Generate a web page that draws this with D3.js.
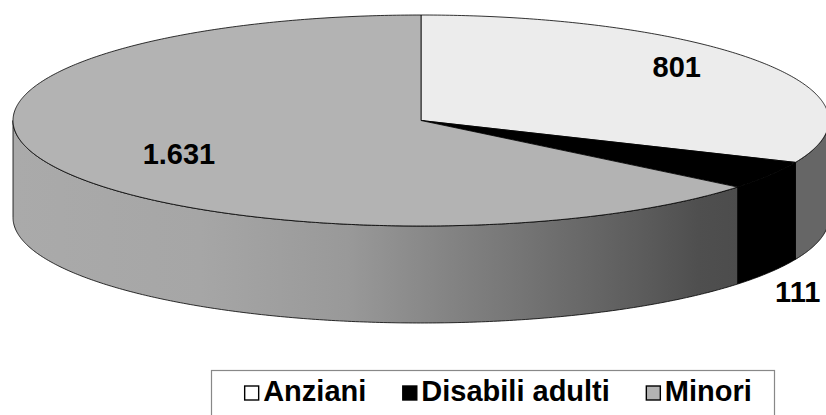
<!DOCTYPE html>
<html><head><meta charset="utf-8">
<script src="https://cdn.jsdelivr.net/npm/d3@7"></script>
<style>
html,body{margin:0;padding:0;background:#fff;}
svg{display:block;}
text{font-family:"Liberation Sans",Arial,Helvetica,sans-serif;font-weight:bold;}
</style></head>
<body>
<svg id="chart" width="826" height="415"></svg>
<script>
// ---- data ----
const categories = ["Anziani", "Disabili adulti", "Minori"];
const values = [801, 111, 1631];
const valueLabels = ["801", "111", "1.631"];

// ---- styles ----
const topColors = ["#ececec", "#000000", "#b3b3b3"];
const legendColors = ["#ffffff", "#000000", "#b3b3b3"];
const sideFills = ["#666666", "#000000", "url(#minoriSide)"];

// ---- layout ----
const cx = 421, cy = 120.5, rx = 408, ry = 105.5, depth = 97;
const labelR = [0.75, 1.08, 0.657];
const labelShift = [-10, 112, 4];

const svg = d3.select("#chart");
const defs = svg.append("defs");
const grad = defs.append("linearGradient").attr("id", "minoriSide")
  .attr("gradientUnits", "userSpaceOnUse")
  .attr("x1", cx - rx).attr("x2", cx + rx).attr("y1", 0).attr("y2", 0);
[[0, "#aaaaaa"], [0.23, "#a6a6a6"], [0.41, "#999999"], [0.52, "#868686"],
 [0.64, "#727272"], [0.77, "#5c5c5c"], [0.84, "#4f4f4f"], [0.89, "#4c4c4c"], [1, "#4a4a4a"]]
  .forEach(([o, c]) => grad.append("stop").attr("offset", o).attr("stop-color", c));

const pie = d3.pie().sort(null).value(d => d);
const arcs = pie(values);

const pt = (a, dy = 0) => [cx + rx * Math.sin(a), cy - ry * Math.cos(a) + dy];
function samples(a0, a1) {
  const n = Math.max(2, Math.ceil(Math.abs(a1 - a0) / 0.01));
  return d3.range(n + 1).map(i => a0 + (a1 - a0) * i / n);
}
const line = d3.line();

const gSide = svg.append("g");
const gTop = svg.append("g");

arcs.forEach((d, i) => {
  const a0 = Math.max(d.startAngle, Math.PI / 2);
  const a1 = Math.min(d.endAngle, 3 * Math.PI / 2);
  if (a1 > a0) {
    const topPts = samples(a0, a1).map(a => pt(a));
    const botPts = samples(a1, a0).map(a => pt(a, depth));
    gSide.append("path")
      .attr("d", line(topPts.concat(botPts)) + "Z")
      .attr("fill", sideFills[i])
      .attr("stroke", "#000").attr("stroke-width", 0.8).attr("stroke-linejoin", "round");
  }
  const tp = [[cx, cy]].concat(samples(d.startAngle, d.endAngle).map(a => pt(a)));
  gTop.append("path")
    .attr("d", line(tp) + "Z")
    .attr("fill", topColors[i])
    .attr("stroke", "#000").attr("stroke-width", 0.8).attr("stroke-linejoin", "round");
});

// value labels
arcs.forEach((d, i) => {
  const m = (d.startAngle + d.endAngle) / 2;
  const x = cx + rx * Math.sin(m) * labelR[i];
  const y = cy - ry * Math.cos(m) * labelR[i] + labelShift[i];
  svg.append("text").attr("x", x).attr("y", y)
    .attr("text-anchor", "middle").attr("dominant-baseline", "central")
    .attr("font-size", 29).attr("fill", "#000").text(valueLabels[i]);
});

// legend
const legend = svg.append("g");
legend.append("rect").attr("x", 211.5).attr("y", 370.5).attr("width", 563).attr("height", 60)
  .attr("fill", "#fff").attr("stroke", "#888").attr("stroke-width", 1.2);
const items = legend.append("g");
let xPos = 0;
const sq = 15, gapText = 4, gapItem = 36;
categories.forEach((c, i) => {
  const g = items.append("g").attr("transform", `translate(${xPos},0)`);
  g.append("rect").attr("x", 0.5).attr("y", -15).attr("width", sq - 1).attr("height", sq - 1)
    .attr("fill", legendColors[i]).attr("stroke", "#000").attr("stroke-width", 1.4);
  const t = g.append("text").attr("x", sq + gapText).attr("y", 0)
    .attr("font-size", 29).attr("fill", "#000").text(c);
  xPos += sq + gapText + t.node().getComputedTextLength() + gapItem;
});
const total = xPos - gapItem;
items.attr("transform", `translate(${498 - total / 2},401)`);
</script>
</body></html>
